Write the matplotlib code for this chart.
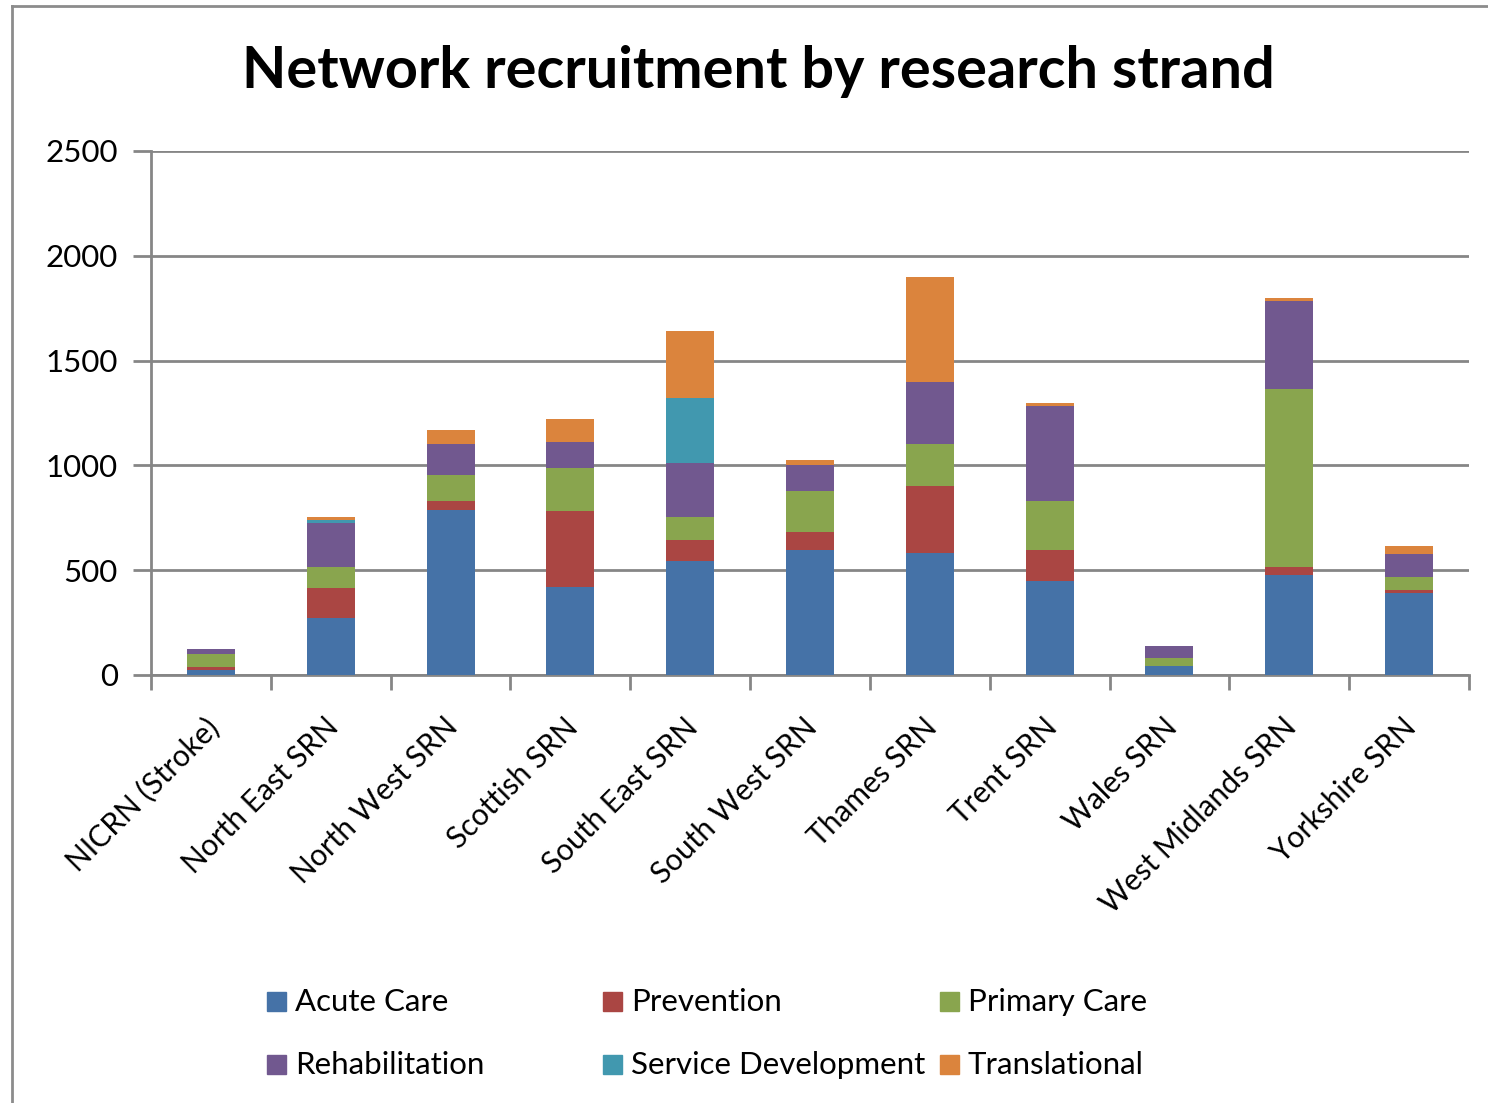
import numpy as np
import matplotlib.pyplot as plt
import matplotlib.transforms as mtransforms
from matplotlib.lines import Line2D
from matplotlib.patches import Rectangle

plt.rcParams['font.family'] = ['Lato', 'DejaVu Sans']

# data
networks = ["NICRN (Stroke)", "North East SRN", "North West SRN", "Scottish SRN",
            "South East SRN", "South West SRN", "Thames SRN", "Trent SRN",
            "Wales SRN", "West Midlands SRN", "Yorkshire SRN"]
acute_care = [24, 270, 786, 420, 543, 597, 582, 447, 44, 479, 393]
prevention = [12, 147, 44, 361, 100, 85, 319, 148, 0, 37, 12]
primary_care = [63, 99, 126, 208, 111, 194, 199, 235, 35, 849, 63]
rehabilitation = [25, 209, 147, 122, 257, 124, 296, 452, 61, 421, 108]
service_development = [0, 13, 0, 0, 309, 0, 0, 0, 0, 0, 0]
translational = [0, 14, 64, 111, 323, 28, 505, 16, 0, 14, 40]

series_names = ["Acute Care", "Prevention", "Primary Care", "Rehabilitation",
                "Service Development", "Translational"]
series_values = [acute_care, prevention, primary_care, rehabilitation,
                 service_development, translational]
colors = ["#4572A7", "#AA4643", "#89A54E", "#71588F", "#4198AF", "#DB843D"]

W, H = 1488, 1103
fig = plt.figure(figsize=(W / 100, H / 100), dpi=100)
ax = fig.add_axes([151 / W, 1 - 675 / H, (1469 - 151) / W, (675 - 151) / H])

grid_col = "#868686"
x = np.arange(len(networks))
bottom = np.zeros(len(networks))
for name, vals, c in zip(series_names, series_values, colors):
    vals = np.array(vals, dtype=float)
    ax.bar(x, vals, width=0.4, bottom=bottom, color=c, label=name, zorder=3)
    bottom += vals

ax.set_xlim(-0.5, len(networks) - 0.5)
ax.set_ylim(0, 2500)
ax.set_yticks(np.arange(0, 2501, 500))
ax.yaxis.grid(True, color=grid_col, linewidth=2, zorder=0)
ax.tick_params(axis='y', length=13, width=2, color=grid_col, labelsize=22.5, pad=11)

ax.set_xticks(x)
ax.set_xticklabels(networks, rotation=45, ha='right', va='top',
                   rotation_mode='anchor', fontsize=21.5)
ax.tick_params(axis='x', which='major', length=0, pad=27)
shift = mtransforms.ScaledTranslation(-7 / 100, 0, fig.dpi_scale_trans)
for lab in ax.get_xticklabels():
    lab.set_transform(lab.get_transform() + shift)
ax.set_xticks(np.arange(-0.5, len(networks), 1), minor=True)
ax.tick_params(axis='x', which='minor', length=11, width=2, color=grid_col)

for s in ['top', 'right']:
    ax.spines[s].set_visible(False)
for s in ['left', 'bottom']:
    ax.spines[s].set_color(grid_col)
    ax.spines[s].set_linewidth(2)

fig.text(758 / W, 1 - 72 / H, "Network recruitment by research strand",
         ha='center', va='center', fontsize=41.5, fontweight='bold')

# legend laid out like the original (3 columns, row-major)
col_x = [267, 603, 940]
row_y = [1002, 1065]
for i, (name, c) in enumerate(zip(series_names, colors)):
    px = col_x[i % 3]
    py = row_y[i // 3]
    fig.add_artist(Rectangle((px / W, 1 - (py + 9) / H), 19 / W, 19 / H,
                             color=c, transform=fig.transFigure))
    fig.text((px + 28) / W, 1 - py / H, name, ha='left', va='center', fontsize=22.5)

# outer chart border
border = "#8c8c8c"
fig.add_artist(Line2D([12 / W, 12 / W], [0, 1 - 6 / H], color=border, lw=2))
fig.add_artist(Line2D([12 / W, 1], [1 - 6 / H, 1 - 6 / H], color=border, lw=2))

fig.savefig("out.png", dpi=100)
